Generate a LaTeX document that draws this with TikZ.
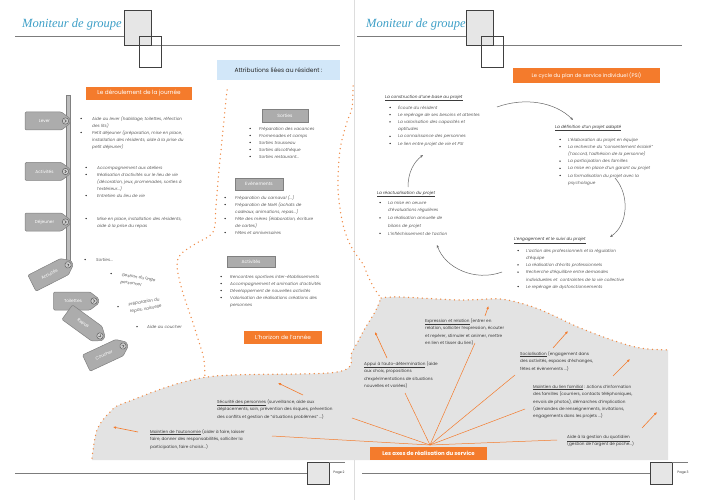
\documentclass[tikz,border=0pt]{standalone}
\usepackage{fontspec}
\setmainfont{Poppins}
\newfontfamily\hfont{Liberation Serif}
\usetikzlibrary{arrows.meta}
\definecolor{org}{HTML}{F47B2C}
\definecolor{dotc}{HTML}{EE8A45}
\definecolor{txtc}{HTML}{5E5E5E}
\definecolor{hdc}{HTML}{3B3B3B}
\definecolor{regc}{HTML}{E3E3E3}
\definecolor{tagc}{HTML}{ACACAC}
\definecolor{tagd}{HTML}{808080}
\definecolor{bluebox}{HTML}{D2E7F9}
\definecolor{headc}{HTML}{3C9EC6}
\definecolor{linec}{HTML}{7C7C7C}
\definecolor{boxc}{HTML}{E6E6E6}
\definecolor{bulc}{HTML}{222222}
\definecolor{divc}{HTML}{DDDDDD}
\newcommand\blt[2]{\fill[bulc] (#1,#2-1.5) circle (0.75pt);}
\newcommand\tx[5][]{\node[txt,#1] (#2) at (#3,#4-4.2) {\rule{0pt}{4.2pt}#5};}
\begin{document}
\begin{tikzpicture}[x=1pt,y=-1pt,
  txt/.style={font=\fontsize{4.2}{7}\selectfont\itshape, text=txtc, align=left, inner sep=0pt, anchor=north west},
  cyctxt/.style={font=\fontsize{4.2}{7.2}\selectfont\itshape},
  hd/.style={font=\fontsize{4.2}{7}\selectfont\itshape, text=hdc},
  rtxt/.style={font=\fontsize{4.2}{7.4}\selectfont, text=hdc},
  orgbox/.style={fill=org, text=white, font=\fontsize{5.7}{6}\selectfont, inner sep=0pt},
  graybox/.style={fill=tagc, draw=tagd, line width=0.5pt, text=white, font=\fontsize{4.5}{5}\selectfont, inner sep=0pt},
  dotline/.style={draw=dotc, line width=1.5pt, line cap=round, dash pattern=on 0pt off 4.6pt},
  cyc/.style={draw=black!60, line width=0.5pt, -{Stealth[length=3pt,width=2.4pt]}},
  ray/.style={draw=org, line width=0.5pt},
  oarrow/.style={draw=org, line width=0.6pt, -{Latex[length=3pt,width=2.6pt]}},
  hline/.style={draw=linec, line width=0.8pt},
  hbox/.style={draw=black!75, line width=0.6pt},
  tagtext/.style={text=white, font=\fontsize{4.3}{5}\selectfont, inner sep=0pt, transform shape},
  pgn/.style={font=\fontsize{3.3}{4}\selectfont, text=black!80, inner sep=0pt},
  pics/tagp/.style={code={
    \path[fill=tagc, draw=tagd, line width=0.5pt, rounded corners=1.2pt]
      (-22.5,-9) -- (14,-9) -- (22.5,-2.5) -- (22.5,2.5) -- (14,9) -- (-22.5,9) -- cycle;
    \draw[draw=black!65, fill=tagc!60, line width=0.45pt] (18,0) circle (3.2pt);
    \draw[draw=black!70, line width=0.45pt] (17.1,-1.5) -- (18.9,0) -- (17.1,1.5);
    \node[tagtext] (-txt) at (-3,0) {#1};
  }}
]
\useasboundingbox (0,0) rectangle (707,500);
% page divider
\draw[divc, line width=0.6pt] (354,0) -- (354,500);
% gray region
\fill[regc] plot[smooth, tension=0.55] coordinates {(92,458) (97,430) (110,412) (127,402) (207,377) (337,372) (352,352) (364,330) (375,312) (381,298)}
  -- plot[smooth, tension=0.55] coordinates {(381,298) (400,297) (460,300) (500,299) (527,305) (548,313) (578,327) (612,340) (640,348) (668,350)}
  -- (668,460) -- (92,460) -- cycle;
\draw[dotline] plot[smooth, tension=0.55] coordinates {(92,458) (97,430) (110,412) (127,402) (207,377) (337,372) (352,352) (364,330) (375,312) (381,298)};
\draw[dotline] plot[smooth, tension=0.55] coordinates {(381,298) (400,297) (460,300) (500,299) (527,305) (548,313) (578,327) (612,340) (640,348) (668,350)};
\draw[dotline] plot[smooth, tension=0.55] coordinates {(227,90) (223,130) (219,170) (216,205) (213,232) (195,244) (181,254) (177,266) (182,290) (192,320) (200,345) (204,360) (205,377)};
\draw[dotline] plot[smooth, tension=0.55] coordinates {(353,86) (352,108) (347,122) (340,150) (338,188) (342,220) (348,240) (355,253) (363,264) (368,276) (374,288) (381,298)};

% headers
\draw[hline] (15,36) -- (124,36);
\draw[hline] (151,45) -- (340,45);
\draw[hbox, fill=boxc] (124,10) rectangle (151,45);
\draw[hbox] (139,36) rectangle (161,67);
\node[font=\hfont\itshape\fontsize{12.5}{13}\selectfont, text=headc, anchor=base west, inner sep=0pt] (h1) at (22,28) {Moniteur de groupe};
\draw[hline] (357,36) -- (466,36);
\draw[hline] (493,45) -- (682,45);
\draw[hbox, fill=boxc] (466,10) rectangle (493,45);
\draw[hbox] (481,36) rectangle (503,67);
\node[font=\hfont\itshape\fontsize{12.5}{13}\selectfont, text=headc, anchor=base west, inner sep=0pt] (h2) at (366,28) {Moniteur de groupe};

% footers
\draw[hline] (15,473) -- (307,473);
\draw[hbox, fill=boxc] (307,462) rectangle (329,484);
\draw[hline] (329,462) -- (345,462);
\node[pgn] (p2) at (339,473) {Page 2};
\draw[hline] (362,473) -- (650,473);
\draw[hbox, fill=boxc] (650,462) rectangle (672,484);
\draw[hline] (672,462) -- (688,462);
\node[pgn] (p3) at (683,473) {Page 3};

% titles
\node[fill=bluebox, minimum width=123pt, minimum height=20pt, font=\fontsize{6}{7}\selectfont, text=black!85, inner sep=0pt] (attr) at (278.5,70) {Attributions liées au résident :};
\node[orgbox, minimum width=106pt, minimum height=13pt] (jour) at (139,93.5) {Le déroulement de la journée};
\node[orgbox, minimum width=78pt, minimum height=13pt] (annee) at (283,337.5) {L'horizon de l'année};
\node[orgbox, minimum width=147pt, minimum height=15pt, font=\fontsize{5.2}{6}\selectfont] (psi) at (586.5,75.5) {Le cycle du plan de service individuel (PSI)};
\node[orgbox, minimum width=117pt, minimum height=13pt, font=\fontsize{5.4}{6}\selectfont\bfseries] (axes) at (428.5,453.5) {Les axes de réalisation du service};

% timeline
\draw[fill=tagc!80, draw=tagd, line width=0.5pt] (66,95) rectangle (70,263);
\pic (tg1) at (47.5,121) {tagp=Lever};
\pic (tg2) at (47.5,171.5) {tagp=Activités};
\pic (tg3) at (47.5,222) {tagp=Déjeuner};
\pic[rotate=27] (tg4) at (52,273) {tagp=Activités};
\pic (tg5) at (76,301) {tagp=Toilettes};
\pic[rotate=-36] (tg6) at (85.4,325.4) {tagp=Repas};
\pic[rotate=25] (tg7) at (106.7,353.6) {tagp=Coucher};

% day items
\blt{81}{120}\blt{81}{134}
\tx{lev}{92}{120}{Aide au lever (habillage, toilettes, réfection\\des lits)\\Petit déjeuner (préparation, mise en place,\\installation des résidents, aide à la prise du\\petit déjeuner)}
\blt{86}{169}\blt{86}{176}\blt{86}{197}
\tx{act}{97}{169}{Accompagnement aux ateliers\\Réalisation d'activités sur le lieu de vie\\(décoration, jeux, promenades, sorties à\\l'extérieur...)\\Entretien du lieu de vie}
\blt{86}{220}
\tx{dej}{97}{220}{Mise en place, installation des résidents,\\aide à la prise du repas}
\blt{85}{261}
\tx{it1}{96}{261}{Sorties...}
\blt{111}{275}
\tx[rotate=-9]{it2}{122}{276}{Gestion du linge\\personnel}
\blt{118}{308}
\tx[rotate=10]{it3}{128}{306}{Préparation du\\repas, vaisselle}
\blt{137}{328}
\tx{it4}{147}{328}{Aide au coucher}

% middle column
\node[graybox, minimum width=46pt, minimum height=13pt] (bs) at (285,115.5) {Sorties};
\blt{250}{130}\blt{250}{137}\blt{250}{144}\blt{250}{151}\blt{250}{158}
\tx{sor}{259}{130}{Préparation des vacances\\Promenades et camps\\Sorties trousseau\\Sorties discothèque\\Sorties restaurant...}
\node[graybox, minimum width=48pt, minimum height=12pt] (be) at (259,184) {Evènements};
\blt{225}{199}\blt{225}{206}\blt{225}{220}\blt{225}{234}
\tx{eve}{235}{199}{Préparation du carnaval (...)\\Préparation de Noël (achats de\\cadeaux, animations, repas...)\\Fête des mères (élaboration, écriture\\de cartes)\\Fêtes et anniversaires}
\node[graybox, minimum width=48pt, minimum height=11pt] (ba) at (251,261.5) {Activités};
\blt{221}{278}\blt{221}{285}\blt{221}{292}\blt{221}{299}
\tx{acm}{230}{278}{Rencontres sportives inter-établissements\\Accompagnement et animation d'activités\\Développement de nouvelles activités\\Valorisation de réalisations créations des\\personnes}

% cycle
\tx[hd]{c1}{385}{98}{\underline{La construction d'une base au projet}}
\blt{390}{109}\blt{390}{116.2}\blt{390}{123.4}\blt{390}{137.8}\blt{390}{145}
\tx[cyctxt]{c1l}{398}{109}{Écoute du résident\\Le repérage de ses besoins et attentes\\La valorisation des capacités et\\aptitudes\\La connaissance des personnes\\Le lien entre projet de vie et PSI}
\tx[hd]{c2}{555}{128}{\underline{La définition d'un projet adapté}}
\blt{560}{141}\blt{560}{148.2}\blt{560}{162.6}\blt{560}{169.8}\blt{560}{177}
\tx[cyctxt]{c2l}{568}{141}{L'élaboration du projet en équipe\\La recherche du ``consentement éclairé''\\(l'accord, l'adhésion de la personne)\\La participation des familles\\La mise en place d'un garant au projet\\La formalisation du projet avec la\\psychologue}
\tx[hd]{c3}{514}{240}{\underline{L'engagement et le suivi du projet}}
\blt{518}{252}\blt{518}{266.4}\blt{518}{273.6}\blt{518}{288}
\tx[cyctxt]{c3l}{526}{252}{L'action des professionnels et la régulation\\d'équipe\\La réalisation d'écrits professionnels\\Recherche d'équilibre entre demandes\\individuelles et\ \ contraintes de la vie collective\\Le repérage de dysfonctionnements}
\tx[hd]{c4}{377}{194}{\underline{La réactualisation du projet}}
\blt{380}{204}\blt{380}{219.4}\blt{380}{234.8}
\tx[font=\fontsize{4.2}{7.7}\selectfont\itshape]{c4l}{388}{204}{La mise en oeuvre\\d'évaluations régulières\\La réalisation annuelle de\\bilans de projet\\L'infléchissement de l'action}
\coordinate (k1a) at (497,107); \coordinate (k1b) at (573,120);
\coordinate (k2a) at (615,178); \coordinate (k2b) at (610,237);
\coordinate (k3a) at (502,272); \coordinate (k3b) at (437,245);
\coordinate (k4a) at (408,187); \coordinate (k4b) at (423,155);
\draw[cyc] (k1a) .. controls (525,97) and (555,102) .. (k1b);
\draw[cyc] (k2a) .. controls (630,195) and (628,225) .. (k2b);
\draw[cyc] (k3a) .. controls (475,282) and (445,268) .. (k3b);
\draw[cyc] (k4a) .. controls (408,172) and (414,162) .. (k4b);

% region texts
\tx[rtxt]{sec}{217}{403}{\underline{Sécurité des personnes} (surveillance, aide aux\\déplacements, soin, prévention des risques, prévention\\des conflits et gestion de ``situations problèmes'' ...)}
\tx[rtxt]{aut}{150}{433}{\underline{Maintien de l'autonomie} (aider à faire, laisser\\faire, donner des responsabilités, solliciter la\\participation, faire choisir...)}
\tx[rtxt]{app}{364}{365}{\underline{Appui à l'auto-détermination} (aide\\aux choix, propositions\\d'expérimentations de situations\\nouvelles et variées)}
\tx[rtxt]{exp}{425}{322}{\underline{Expression et relation} (entrer en\\relation, solliciter l'expression, écouter\\et repérer, stimuler et animer, mettre\\en lien et tisser du lien)}
\tx[rtxt]{soc}{520}{355}{\underline{Socialisation} (engagement dans\\des activités, espaces d'échanges,\\fêtes et évènements ...)}
\tx[rtxt]{fam}{533}{388}{\underline{Maintien du lien familial} : Actions d'information\\des familles (courriers, contacts téléphoniques,\\envois de photos), démarches d'implication\\(demandes de renseignements, invitations,\\engagements dans les projets ...)}
\tx[rtxt]{quo}{567}{438}{\underline{Aide à la gestion du quotidien}\\(gestion de l'argent de poche...)}

% rays
\coordinate (hub) at (430,445);
\coordinate (r1) at (272,436);
\coordinate (r2) at (352,418);
\coordinate (r3) at (405,393);
\coordinate (r4) at (475,343);
\coordinate (r5) at (515,375);
\coordinate (r6) at (525,409);
\coordinate (r7) at (557,440);
\foreach \c in {r1,r2,r3,r4,r5,r6,r7} \draw[ray] (hub) -- (\c);

% small arrows to boundary
\coordinate (a1t) at (303,395); \coordinate (a1h) at (278,383);
\coordinate (a2t) at (138,432); \coordinate (a2h) at (113,427);
\coordinate (a3t) at (387,358); \coordinate (a3h) at (375,332);
\coordinate (a4t) at (485,316); \coordinate (a4h) at (488.5,306);
\coordinate (a5t) at (553,348); \coordinate (a5h) at (568,331);
\coordinate (a6t) at (613,376); \coordinate (a6h) at (630,359);
\coordinate (a7t) at (642,428); \coordinate (a7h) at (657,412);
\foreach \i in {1,...,7} \draw[oarrow] (a\i t) -- (a\i h);
\end{tikzpicture}
\end{document}
